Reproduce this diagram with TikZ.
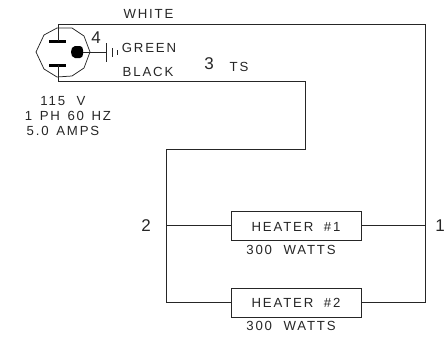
\documentclass[tikz,border=0pt]{standalone}
\usepackage{fontspec}
\setmainfont[LetterSpace=14]{Liberation Sans}
\begin{document}
\begin{tikzpicture}[x=1pt,y=-1pt,
  wire/.style={line width=0.75pt,black!85},
  lab/.style={inner sep=0pt,font=\fontsize{13.2}{14}\selectfont,text=black!85},
  num/.style={inner sep=0pt,font=\fontsize{17}{18}\selectfont,text=black!85},
  heater/.style={draw=black!85,line width=0.75pt,fill=white,minimum width=130pt,minimum height=29pt,inner sep=0pt}]
\useasboundingbox (0,0) rectangle (445,338);
% plug body
\draw[wire] (36,52)--(44,35)--(57,28)--(72,28)--(84,36)--(90,52)--(84,68)--(72,76)--(57,77)--(44,69)--cycle;
\coordinate (bt) at (58,41);
\coordinate (bb) at (58,65);
\draw[line width=3pt] (49,41)--(66,41);
\draw[line width=3pt] (49,65)--(66,65);
% ground pin
\coordinate (pin) at (83,52);
\fill[black] (71,52) to[out=90,in=180] (75,46) -- (80,46) to[out=0,in=90] (83,50) -- (83,54) to[out=-90,in=0] (80,58) -- (75,58) to[out=180,in=-90] (71,52) -- cycle;
\coordinate (gnd) at (106,52);
\draw[wire] (pin)--(gnd);
\draw[wire] (106,43)--(106,62);
\draw[wire] (112,48)--(112,57);
\draw[wire] (117,50)--(117,55);
% heaters
\node[heater] (h1) at (296,225.5) {};
\node[heater] (h2) at (296,302.5) {};
\node[lab] at (296,227) {HEATER\hspace{5pt} \#1};
\node[lab] at (296,303) {HEATER\hspace{5pt} \#2};
\node[lab] at (291,250) {300\hspace{6pt} WATTS};
\node[lab] at (291,326) {300\hspace{6pt} WATTS};
% wiring
\coordinate (wr) at (425.5,24);
\coordinate (rt) at (425.5,225.5);
\coordinate (rb) at (425.5,302.5);
\coordinate (lt) at (166,225.5);
\coordinate (lb) at (166,302.5);
\draw[wire] (bt)--(58,24)--(wr)--(rb)--(h2.east);
\draw[wire] (h1.east)--(rt);
\draw[wire] (bb)--(58,81)--(305,81)--(305,149)--(166,149)--(lb)--(h2.west);
\draw[wire] (lt)--(h1.west);
% labels
\node[lab] at (148.5,14) {WHITE};
\node[lab] at (149,48) {GREEN};
\node[lab] at (148,72) {BLACK};
\node[lab] at (239,67) {TS};
\node[num] at (209,64) {3};
\node[num] at (96,38) {4};
\node[num] at (146,226) {2};
\node[num,anchor=east] at (445,226) {1};
\node[lab] at (63,101) {115\hspace{6pt} V};
\node[lab] at (68,116) {1\hspace{2pt} PH\hspace{2pt} 60\hspace{2pt} HZ};
\node[lab] at (63,131) {5.0\hspace{2pt} AMPS};
\end{tikzpicture}
\end{document}
